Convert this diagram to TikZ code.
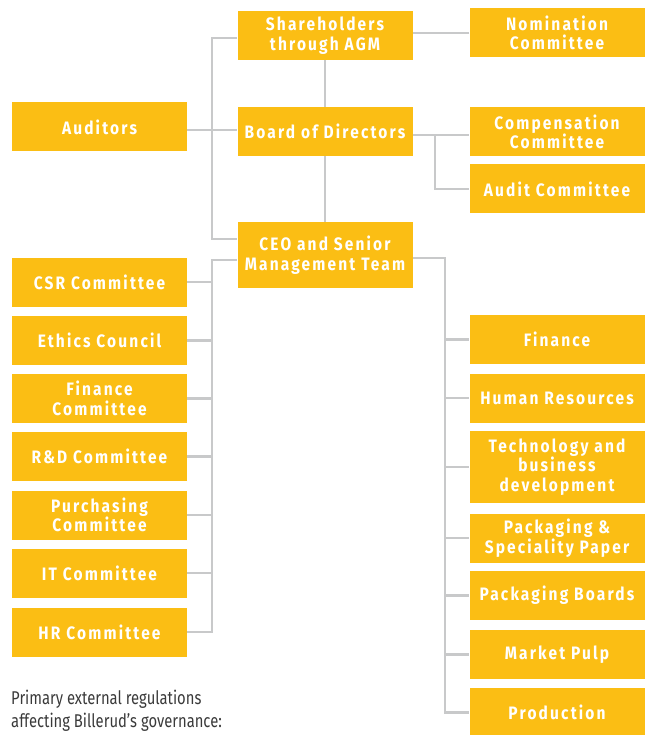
\documentclass[tikz,border=0pt]{standalone}
\usepackage{fontspec}
\setmainfont{Fira Sans}
\newfontfamily\boxfont{Fira Sans}[FakeStretch=0.86,LetterSpace=12]
\newfontfamily\notefont{Fira Sans}[FakeStretch=0.8]
\usetikzlibrary{positioning, calc}
\definecolor{boxyellow}{HTML}{FBBE14}
\definecolor{linkgray}{HTML}{C8C9CA}
\definecolor{notegray}{HTML}{3A3A3A}

\begin{document}
\begin{tikzpicture}[x=1pt, y=-1pt,
  every node/.style={fill=boxyellow, text=white, align=center, inner sep=0pt,
    minimum width=175pt, minimum height=49pt,
    font=\boxfont\bfseries\fontsize{18}{19.5}\selectfont},
  link/.style={draw=linkgray, line width=2.6pt},
  note/.style={fill=none, text=notegray, align=left, minimum width=0pt, minimum height=0pt,
    font=\notefont\fontsize{18.5}{23}\selectfont}]
  \useasboundingbox (0,0) rectangle (649,735);
  \node (sh) at (325,35.5) {Shareholders\\through AGM};
  \node (nom) at (557,33) {Nomination\\Committee};
  \node (bod) at (325,131.5) {Board of Directors};
  \node (aud) at (99.5,127) {Auditors};
  \node (comp) at (557,132) {Compensation\\Committee};
  \node (audc) at (557,189) {Audit Committee};
  \node[minimum height=66pt] (ceo) at (325,255) {CEO and Senior\\Management Team};
  \node (l1) at (99.5,282) {CSR Committee};
  \node (l2) at (99.5,340.5) {Ethics Council};
  \node (l3) at (99.5,398.5) {Finance\\Committee};
  \node (l4) at (99.5,456.5) {R\&D Committee};
  \node (l5) at (99.5,515) {Purchasing\\Committee};
  \node (l6) at (99.5,573) {IT Committee};
  \node (l7) at (99.5,632) {HR Committee};
  \node (r1) at (557,339.5) {Finance};
  \node (r2) at (557,398) {Human Resources};
  \node[minimum height=72pt] (r3) at (557,467) {Technology and\\business\\development};
  \node (r4) at (557,538) {Packaging \&\\Speciality Paper};
  \node (r5) at (557,595.5) {Packaging Boards};
  \node (r6) at (557,654.5) {Market Pulp};
  \node (r7) at (557,712.5) {Production};
  \node[note, anchor=north west] (regs) at (11,690) {Primary external regulations\\affecting Billerud’s governance:};
  \coordinate (a1) at (212,38);
  \coordinate (a2) at (212,239);
  \coordinate (a3) at (212,130);
  \coordinate (b1) at (435,135);
  \coordinate (c1) at (445,258);
  \coordinate (d1) at (212,260);
  \draw[link] (sh.west |- a1) -- (a1) -- (a2) -- (ceo.west |- a2);
  \draw[link] (aud.east |- a3) -- (bod.west |- a3);
  \draw[link] (sh.south) -- (bod.north);
  \draw[link] (bod.south) -- (ceo.north);
  \draw[link] (nom.west) -- (nom.west -| sh.east);
  \draw[link] (bod.east |- b1) -- (comp.west |- b1);
  \draw[link] (b1) |- (audc.west);
  \draw[link] (ceo.east |- c1) -- (c1) |- (r7.west);
  \draw[link] (c1 |- r1.west) -- (r1.west);
  \draw[link] (c1 |- r2.west) -- (r2.west);
  \draw[link] (c1 |- r3.west) -- (r3.west);
  \draw[link] (c1 |- r4.west) -- (r4.west);
  \draw[link] (c1 |- r5.west) -- (r5.west);
  \draw[link] (c1 |- r6.west) -- (r6.west);
  \draw[link] (ceo.west |- d1) -- (d1) |- (l7.east);
  \draw[link] (d1 |- l1.east) -- (l1.east);
  \draw[link] (d1 |- l2.east) -- (l2.east);
  \draw[link] (d1 |- l3.east) -- (l3.east);
  \draw[link] (d1 |- l4.east) -- (l4.east);
  \draw[link] (d1 |- l5.east) -- (l5.east);
  \draw[link] (d1 |- l6.east) -- (l6.east);
\end{tikzpicture}
\end{document}
